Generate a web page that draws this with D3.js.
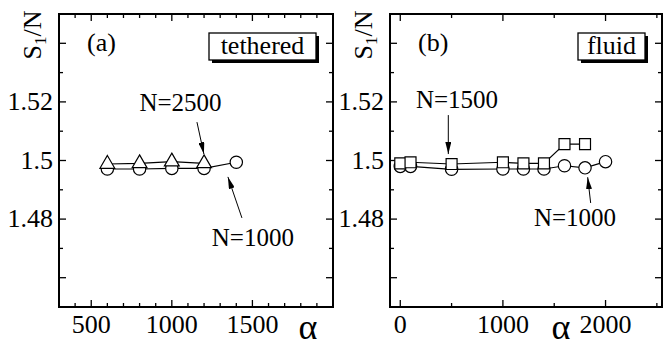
<!DOCTYPE html>
<html>
<head>
<meta charset="utf-8">
<script src="https://cdn.jsdelivr.net/npm/d3@7"></script>
<style>
    html, body { margin: 0; padding: 0; background: #fff; }
    .serif { font-family: "Times New Roman", "Liberation Serif", Tinos; }
</style>
</head>
<body>
<div id="chart"></div>
<script>
// y axis (shared)
const yDomain = [1.45, 1.55];
const yMajorTicks = [1.46, 1.48, 1.5, 1.52, 1.54];
const yMinorTicks = [1.45, 1.47, 1.49, 1.51, 1.53, 1.55];
const yTickLabels = [1.48, 1.5, 1.52];

// (a) tethered
const tetheredXDomain = [300, 2000];
const tetheredXMajor = [500, 1000, 1500];
const tetheredXMinor = [400, 600, 700, 800, 900, 1100, 1200, 1300, 1400, 1600, 1700, 1800, 1900];
const tetheredAlpha1000 = [600, 800, 1000, 1200, 1400];
const tetheredS1000 = [1.4971, 1.4971, 1.4973, 1.4973, 1.4994];
const tetheredAlpha2500 = [600, 800, 1000, 1200];
const tetheredS2500 = [1.4988, 1.4990, 1.4996, 1.4990];

// (b) fluid
const fluidXDomain = [-100, 2550];
const fluidXMajor = [0, 1000, 2000];
const fluidXMinor = [500, 1500, 2500];
const fluidAlpha1000 = [0, 100, 500, 1000, 1200, 1400, 1600, 1800, 2000];
const fluidS1000 = [1.4980, 1.4980, 1.4970, 1.4971, 1.4971, 1.4971, 1.4982, 1.4975, 1.4996];
const fluidAlpha1500 = [0, 100, 500, 1000, 1200, 1400, 1600, 1800];
const fluidS1500 = [1.4990, 1.4994, 1.4988, 1.4994, 1.4990, 1.4990, 1.5056, 1.5056];

const width = 663, height = 347;
const plotTop = 14, plotBottom = 307;

const svg = d3.select('#chart')
    .append('svg')
    .attr('width', width)
    .attr('height', height)
    .attr('class', 'serif')
    .attr('font-family', 'Times New Roman, Liberation Serif, Tinos');

const defs = svg.append('defs');
defs.append('marker')
    .attr('id', 'arrow')
    .attr('viewBox', '0 0 12 6')
    .attr('refX', 12)
    .attr('refY', 3)
    .attr('markerWidth', 12)
    .attr('markerHeight', 6)
    .attr('markerUnits', 'userSpaceOnUse')
    .attr('orient', 'auto')
    .append('path')
    .attr('d', 'M0,0 L12,3 L0,6 Z')
    .attr('fill', '#000');

const panels = [
    {
        left: 59, right: 333,
        xDomain: tetheredXDomain, xMajor: tetheredXMajor, xMinor: tetheredXMinor,
        tag: '(a)', box: 'tethered', boxWidth: 107,
        series: [
            { alpha: tetheredAlpha1000, s: tetheredS1000, shape: 'circle' },
            { alpha: tetheredAlpha2500, s: tetheredS2500, shape: 'triangle' }
        ],
        notes: [
            { text: 'N=2500', at: [1054, 1.5170], from: [1156, 1.5131], to: [1199, 1.5022] },
            { text: 'N=1000', at: [1503, 1.4708], from: [1435, 1.4804], to: [1348, 1.4944] }
        ],
        alphaX: 308
    },
    {
        left: 390, right: 662,
        xDomain: fluidXDomain, xMajor: fluidXMajor, xMinor: fluidXMinor,
        tag: '(b)', box: 'fluid', boxWidth: 67,
        series: [
            { alpha: fluidAlpha1000, s: fluidS1000, shape: 'circle' },
            { alpha: fluidAlpha1500, s: fluidS1500, shape: 'square' }
        ],
        notes: [
            { text: 'N=1500', at: [553, 1.5180], from: [468, 1.5155], to: [468, 1.5022] },
            { text: 'N=1000', at: [1702, 1.4778], from: [1855, 1.4855], to: [1826, 1.4943] }
        ],
        alphaX: 561
    }
];

const y = d3.scaleLinear().domain(yDomain).range([plotBottom, plotTop]);

function addText(g, size) {
    return g.append('text')
        .attr('class', 'serif')
        .style('font-family', '"Times New Roman"')
        .style('font-size', size + 'px')
        .attr('fill', '#000');
}

function drawPanel(p) {
    const x = d3.scaleLinear().domain(p.xDomain).range([p.left, p.right]);
    const g = svg.append('g');

    // inward ticks on all four sides
    const tickLines = [];
    p.xMajor.forEach(v => tickLines.push([x(v), 7, 'x']));
    p.xMinor.forEach(v => tickLines.push([x(v), 4, 'x']));
    yMajorTicks.forEach(v => tickLines.push([y(v), 7, 'y']));
    yMinorTicks.forEach(v => tickLines.push([y(v), 4, 'y']));

    tickLines.forEach(([pos, len, dir]) => {
        if (dir === 'x') {
            g.append('line').attr('x1', pos).attr('x2', pos).attr('y1', plotBottom).attr('y2', plotBottom - len)
                .attr('stroke', '#000').attr('stroke-width', 1.3);
            g.append('line').attr('x1', pos).attr('x2', pos).attr('y1', plotTop).attr('y2', plotTop + len)
                .attr('stroke', '#000').attr('stroke-width', 1.3);
        } else {
            g.append('line').attr('y1', pos).attr('y2', pos).attr('x1', p.left).attr('x2', p.left + len)
                .attr('stroke', '#000').attr('stroke-width', 1.3);
            g.append('line').attr('y1', pos).attr('y2', pos).attr('x1', p.right).attr('x2', p.right - len)
                .attr('stroke', '#000').attr('stroke-width', 1.3);
        }
    });

    g.append('rect')
        .attr('x', p.left).attr('y', plotTop)
        .attr('width', p.right - p.left).attr('height', plotBottom - plotTop)
        .attr('fill', 'none').attr('stroke', '#000').attr('stroke-width', 2);

    // tick labels
    p.xMajor.forEach(v => {
        addText(g, 26)
            .attr('x', x(v)).attr('y', 333)
            .attr('text-anchor', 'middle')
            .text(d3.format('d')(v));
    });

    yTickLabels.forEach(v => {
        addText(g, 26)
            .attr('x', p.left - 6).attr('y', y(v) + 8)
            .attr('text-anchor', 'end')
            .text(v);
    });

    // axis titles
    addText(g, 36)
        .attr('x', p.alphaX).attr('y', 339)
        .attr('text-anchor', 'middle')
        .text('α');

    const yl = addText(g, 26)
        .attr('transform', `translate(${p.left - 18},35) rotate(-90)`)
        .attr('text-anchor', 'middle');
    yl.append('tspan').text('S');
    yl.append('tspan').attr('dy', 5).style('font-size', '17px').text('1');
    yl.append('tspan').attr('dy', -5).text('/N');

    // panel tag and label box
    addText(g, 26)
        .attr('x', p.left + 28).attr('y', 51)
        .text(p.tag);

    const bx = p.right - 17 - p.boxWidth;
    g.append('rect').attr('x', bx + 3).attr('y', 36).attr('width', p.boxWidth).attr('height', 27).attr('fill', '#000');
    g.append('rect').attr('x', bx).attr('y', 33).attr('width', p.boxWidth).attr('height', 27)
        .attr('fill', '#fff').attr('stroke', '#000').attr('stroke-width', 1.3);
    addText(g, 26)
        .attr('x', bx + p.boxWidth / 2).attr('y', 54)
        .attr('text-anchor', 'middle')
        .text(p.box);

    // data
    const line = d3.line().x(d => x(d[0])).y(d => y(d[1]));
    p.series.forEach(s => {
        const pts = s.alpha.map((a, i) => [a, s.s[i]]);
        g.append('path').datum(pts).attr('d', line)
            .attr('fill', 'none').attr('stroke', '#000').attr('stroke-width', 1.2);
        const sym = s.shape === 'circle' ? d3.symbolCircle : s.shape === 'square' ? d3.symbolSquare : d3.symbolTriangle;
        const size = s.shape === 'circle' ? 120 : s.shape === 'square' ? 120 : 95;
        g.selectAll(null).data(pts).enter().append('path')
            .attr('d', d3.symbol().type(sym).size(size))
            .attr('transform', d => `translate(${x(d[0])},${y(d[1])})`)
            .attr('fill', '#fff').attr('stroke', '#000').attr('stroke-width', 1.2);
    });

    // annotations
    p.notes.forEach(n => {
        addText(g, 25)
            .attr('x', x(n.at[0])).attr('y', y(n.at[1]))
            .attr('text-anchor', 'middle')
            .text(n.text);
        g.append('line')
            .attr('x1', x(n.from[0])).attr('y1', y(n.from[1]))
            .attr('x2', x(n.to[0])).attr('y2', y(n.to[1]))
            .attr('stroke', '#000').attr('stroke-width', 1)
            .attr('marker-end', 'url(#arrow)');
    });
}

panels.forEach(drawPanel);
</script>
</body>
</html>
